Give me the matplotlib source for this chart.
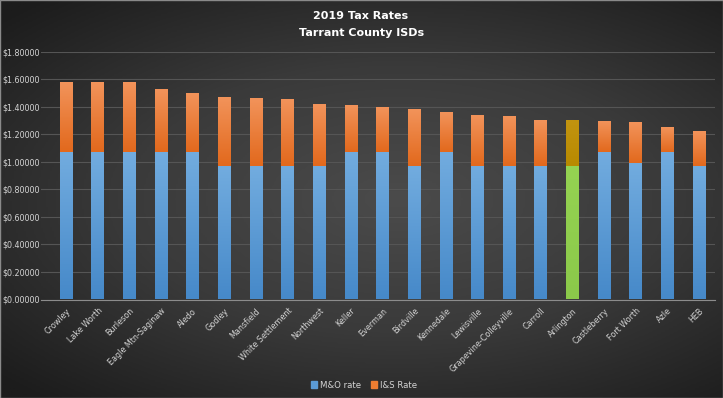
import numpy as np
import matplotlib
matplotlib.use("Agg")
import matplotlib.pyplot as plt
from matplotlib.patches import Patch, Rectangle
from matplotlib.colors import LinearSegmentedColormap

districts = ["Crowley", "Lake Worth", "Burleson", "Eagle Mtn-Saginaw", "Aledo",
             "Godley", "Mansfield", "White Settlement", "Northwest", "Keller",
             "Everman", "Birdville", "Kennedale", "Lewisville", "Grapevine-Colleyville",
             "Carroll", "Arlington", "Castleberry", "Fort Worth", "Azle", "HEB"]
mo_rate = [1.068, 1.068, 1.068, 1.068, 1.068, 0.970, 0.970, 0.970, 0.970, 1.068,
           1.068, 0.970, 1.068, 0.970, 0.970, 0.970, 0.970, 1.068, 0.990, 1.068, 0.970]
total_rate = [1.570, 1.570, 1.570, 1.519, 1.493, 1.471, 1.461, 1.451, 1.420, 1.408,
              1.391, 1.384, 1.352, 1.337, 1.328, 1.304, 1.299, 1.292, 1.282, 1.248, 1.221]
is_rate = [round(t - m, 4) for t, m in zip(total_rate, mo_rate)]
highlight = "Arlington"

W, H = 723, 398
fig = plt.figure(figsize=(W / 100, H / 100), dpi=100)

# radial dark background like the Excel chart style
bg = fig.add_axes([0, 0, 1, 1], zorder=-10)
yy, xx = np.mgrid[0:1:200j, 0:1:360j]
r = np.sqrt(((xx - 0.55) / 1.0) ** 2 + ((yy - 0.5) / 0.9) ** 2)
bg_cmap = LinearSegmentedColormap.from_list("bg", ["#4b4b4b", "#3a3a3a", "#1c1c1c"])
bg.imshow(r, cmap=bg_cmap, aspect="auto", extent=[0, 1, 0, 1], origin="lower",
          vmin=0.0, vmax=0.75)
bg.axis("off")
bg.add_patch(Rectangle((0, 0), 1, 1, transform=bg.transAxes, fill=False,
                       edgecolor="#8a8a8a", lw=1.0))

ax = fig.add_axes([41.3 / W, 1 - 299.5 / H, 673.7 / W, (299.5 - 51.7) / H])
ax.patch.set_alpha(0)

x = np.arange(len(districts))
bw = 0.39
mo_bars = ax.bar(x, mo_rate, bw, color="#5b9bd5", zorder=3)
is_bars = ax.bar(x, is_rate, bw, bottom=mo_rate, color="#ed7d31", zorder=3)


def grad_fill(bar, top, bottom):
    bar.set_facecolor("none")
    bar.set_edgecolor("none")
    x0, y0 = bar.get_x(), bar.get_y()
    w, h = bar.get_width(), bar.get_height()
    cmap = LinearSegmentedColormap.from_list("g", [bottom, top])
    grad = np.linspace(0, 1, 64).reshape(-1, 1)
    ax.imshow(grad, cmap=cmap, aspect="auto", origin="lower",
              extent=[x0, x0 + w, y0, y0 + h], zorder=3)


for name, mb, ib in zip(districts, mo_bars, is_bars):
    if name == highlight:
        grad_fill(mb, "#95d352", "#8bc94a")
        grad_fill(ib, "#c29410", "#b88a00")
    else:
        grad_fill(mb, "#72acdf", "#4689c9")
        grad_fill(ib, "#f2935a", "#e2691d")

ax.set_xlim(-0.78, len(districts) - 1 + 0.51)
ax.set_ylim(0, 1.8)
ax.set_yticks(np.arange(0, 1.81, 0.2))
ax.yaxis.set_major_formatter(matplotlib.ticker.FuncFormatter(lambda v, p: f"${v:.5f}"))
ax.set_xticks(x)
ax.set_xticklabels(districts, rotation=45, ha="right", rotation_mode="anchor")
ax.tick_params(axis="both", colors="#d4d4d4", labelsize=5.8, length=0)
ax.tick_params(axis="y", pad=1)
ax.tick_params(axis="x", pad=5)
ax.grid(axis="y", color="#555555", lw=0.8, zorder=0)
for s in ["top", "right", "left"]:
    ax.spines[s].set_visible(False)
ax.spines["bottom"].set_color("#8c8c8c")
ax.spines["bottom"].set_linewidth(0.8)

fig.text(361 / W, 1 - 15.7 / H, "2019 Tax Rates", ha="center", va="center",
         color="white", fontsize=8, fontweight="bold")
fig.text(362 / W, 1 - 32.7 / H, "Tarrant County ISDs", ha="center", va="center",
         color="white", fontsize=8, fontweight="bold")

handles = [Patch(color="#5b9bd5", label="M&O rate"),
           Patch(color="#ed7d31", label="I&S Rate")]
fig.legend(handles=handles, loc="center", bbox_to_anchor=(364 / W, 1 - 385 / H),
           ncol=2, frameon=False, fontsize=6.2, labelcolor="#d4d4d4",
           handlelength=0.7, handleheight=0.7, handletextpad=0.3, columnspacing=1.2)

fig.savefig("out.png", dpi=100)
